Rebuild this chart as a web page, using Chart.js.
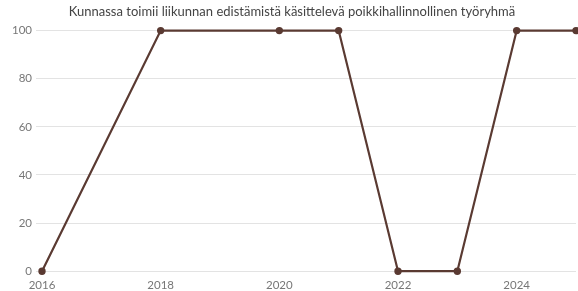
<!DOCTYPE html>
<html>
<head>
<meta charset="utf-8">
<script src="https://cdn.jsdelivr.net/npm/chart.js@4"></script>
<style>
  html, body { margin: 0; padding: 0; background: #fff; }
  #wrap { width: 578px; height: 291px; }
</style>
</head>
<body>
<div id="wrap"><canvas id="chart"></canvas></div>
<script>
const chartTitle = "Kunnassa toimii liikunnan edistämistä käsittelevä poikkihallinnollinen työryhmä";
const years = [2016, 2018, 2020, 2021, 2022, 2023, 2024, 2025];
const values = [0, 100, 100, 100, 0, 0, 100, 100];

const points = [];
for (let i = 0; i < years.length; i++) {
  points.push({ x: years[i], y: values[i] });
}

new Chart(document.getElementById("chart"), {
  type: "line",
  data: {
    datasets: [
      {
        data: points,
        borderColor: "#5a3a32",
        backgroundColor: "#5a3a32",
        borderWidth: 2.2,
        pointRadius: 2.6,
        pointHoverRadius: 2.6,
        tension: 0,
        clip: false,
      },
    ],
  },
  options: {
    responsive: true,
    maintainAspectRatio: false,
    animation: false,
    layout: { autoPadding: false, padding: { left: 8, right: 2, top: 0, bottom: 0 } },
    plugins: {
      legend: { display: false },
      tooltip: { enabled: false },
      title: {
        display: true,
        text: chartTitle,
        color: "#444",
        font: { family: "Lato", size: 13, weight: "normal" },
        padding: { top: 4, bottom: 11 },
      },
    },
    scales: {
      x: {
        type: "linear",
        min: 2016,
        max: 2025,
        afterBuildTicks: (axis) => {
          axis.ticks = axis.ticks.filter((t) => t.value % 2 === 0);
        },
        afterFit: (axis) => {
          axis.paddingRight = 0;
        },
        ticks: {
          stepSize: 2,
          color: "#777",
          font: { family: "Lato", size: 11.5 },
          callback: (v) => String(v),
          padding: -1,
          maxRotation: 0,
        },
        grid: { display: false },
        border: { display: false },
      },
      y: {
        min: 0,
        max: 100,
        ticks: {
          stepSize: 20,
          color: "#777",
          font: { family: "Lato", size: 11.5 },
          padding: 4,
        },
        grid: { color: "#e3e3e3", tickLength: 6 },
        border: { display: false },
      },
    },
  },
});
</script>
</body>
</html>
